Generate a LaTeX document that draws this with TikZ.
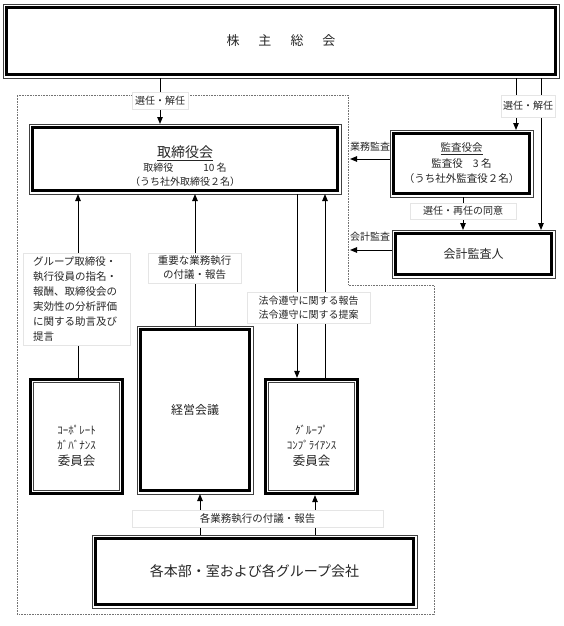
\documentclass[tikz,border=0pt]{standalone}
\usepackage{fontspec}
\setmainfont{Noto Sans CJK JP}
\usetikzlibrary{arrows.meta}
\tikzset{
  tbox/.style={draw, line width=2.6pt, outer sep=3.5pt, inner sep=0pt, text=black!85, align=center},
  cbox/.style={draw, line width=3.2pt, outer sep=1.6pt, inner sep=0pt, text=black!85, align=center},
  frame/.style={line width=0.7pt, black!75},
  lbl/.style={fill=white, draw=black!10, inner sep=0pt, text=black!85, font=\fontsize{10}{13.5}\selectfont, align=center},
  arr/.style={-{Triangle[width=5.5pt,length=7pt]}, line width=1pt},
}
\begin{document}
\begin{tikzpicture}[x=1pt,y=-1pt]
\useasboundingbox (0,0) rectangle (564,626);

% area of the board
\draw[densely dotted, black!55, line width=0.6pt] (17,95) -- (348,95) -- (348,285) -- (434,285) -- (434,614) -- (17,614) -- cycle;

% boards and committees
\node[tbox, minimum width=549pt, minimum height=67pt] (kabu) at (281,41)
  {\fontsize{13}{15}\selectfont 株\hspace{19pt}主\hspace{19pt}総\hspace{19pt}会};
\node[tbox, minimum width=305pt, minimum height=63pt,
  label={[name=toritext, yshift=-7pt, align=center, text=black!85, font=\fontsize{10}{13.5}\selectfont]center:{{\fontsize{14}{16}\selectfont\underline{取締役会}}\\[1pt] 取締役\hspace{30pt}10 名\\ （うち社外取締役２名）}}] (tori) at (185,159) {};
\node[tbox, minimum width=136pt, minimum height=60pt, font=\fontsize{10.5}{15.5}\selectfont] (kansa) at (461.5,163.5)
  {\underline{監査役会}\\ 監査役\hspace{10pt}3 名\\（うち社外監査役２名）};
\node[tbox, minimum width=156pt, minimum height=41pt] (kaikei) at (473.5,254)
  {\fontsize{12}{14}\selectfont 会計監査人};
\node[tbox, minimum width=109pt, minimum height=161pt] (keiei) at (195,410)
  {\fontsize{12}{14}\selectfont 経営会議};
\node[tbox, minimum width=318pt, minimum height=66pt] (honbu) at (254.5,571.5)
  {\fontsize{14}{16}\selectfont 各本部・室および各グループ会社};
\node[cbox, minimum width=92pt, minimum height=114pt,
  label={[name=cgtext, yshift=-9pt, align=center, text=black!85, font=\fontsize{11}{15}\selectfont]center:{ｺｰﾎﾟﾚｰﾄ\\ ｶﾞﾊﾞﾅﾝｽ\\[1pt] {\fontsize{12.5}{15}\selectfont 委員会}}}] (cg) at (76.5,436.5) {};
\node[cbox, minimum width=92pt, minimum height=114pt,
  label={[name=gctext, yshift=-9pt, align=center, text=black!85, font=\fontsize{11}{15}\selectfont]center:{ｸﾞﾙｰﾌﾟ\\ ｺﾝﾌﾟﾗｲｱﾝｽ\\[1pt] {\fontsize{12.5}{15}\selectfont 委員会}}}] (gc) at (311.5,436.5) {};

% outer and inner thin lines
\foreach \n in {kabu,tori,kansa,kaikei,keiei,honbu}
  \draw[frame] (\n.south west) rectangle (\n.north east);
\foreach \n in {cg,gc}
  \draw[frame] ([shift={(4.8pt,4.8pt)}]\n.south west) rectangle ([shift={(-4.8pt,-4.8pt)}]\n.north east);

% connectors
\coordinate (gyomu) at (350,159);
\coordinate (kaikeikansa) at (350,250);
\draw[arr] (kabu.south -| 160,0) -- (tori.north -| 160,0);
\draw[arr] (kabu.south -| 516,0) -- (kansa.north -| 516,0);
\draw[arr] (kabu.south -| 541,0) -- (kaikei.north -| 541,0);
\draw[arr] (kansa.south -| 463,0) -- (kaikei.north -| 463,0);
\draw[arr] (kansa.west |- gyomu) -- (gyomu);
\draw[arr] (kaikei.west |- kaikeikansa) -- (kaikeikansa);
\draw[arr] (cg.north -| 78,0) -- (tori.south -| 78,0);
\draw[arr] (keiei.north -| 195,0) -- (tori.south -| 195,0);
\draw[arr] (tori.south -| 297,0) -- (gc.north -| 297,0);
\draw[arr] (gc.north -| 325,0) -- (tori.south -| 325,0);
\draw[arr] (honbu.north -| 200,0) -- (keiei.south -| 200,0);
\draw[arr] (honbu.north -| 315,0) -- (gc.south -| 315,0);

% labels
\node[lbl, minimum width=56pt, minimum height=17pt] (senkai) at (160,101) {選任・解任};
\node[lbl, minimum width=54pt, minimum height=22pt] (senkaikansa) at (528,106) {選任・解任};
\node[lbl, draw=none, fill=none] (gyomulbl) at (370,147) {業務監査};
\node[lbl, minimum width=106pt, minimum height=16pt] (doi) at (463,211) {選任・再任の同意};
\node[lbl, draw=none, fill=none] (kaikeilbl) at (370,237) {会計監査};
\node[lbl, align=left, text width=87pt, inner xsep=10pt, minimum height=92pt, font=\fontsize{10.5}{15}\selectfont] (jogen) at (76.5,299)
  {グループ取締役・\\執行役員の指名・\\報酬、取締役会の\\実効性の分析評価\\に関する助言及び\\提言};
\node[lbl, minimum width=93pt, minimum height=30pt, font=\fontsize{10.5}{14}\selectfont] (juyo) at (194.5,268) {重要な業務執行\\の付議・報告};
\node[lbl, minimum width=123pt, minimum height=31pt] (horei) at (308.5,307.5) {法令遵守に関する報告\\法令遵守に関する提案};
\node[lbl, minimum width=251pt, minimum height=17pt, font=\fontsize{10.5}{13}\selectfont] (kaku) at (257.5,518.5) {各業務執行の付議・報告};
\end{tikzpicture}
\end{document}
